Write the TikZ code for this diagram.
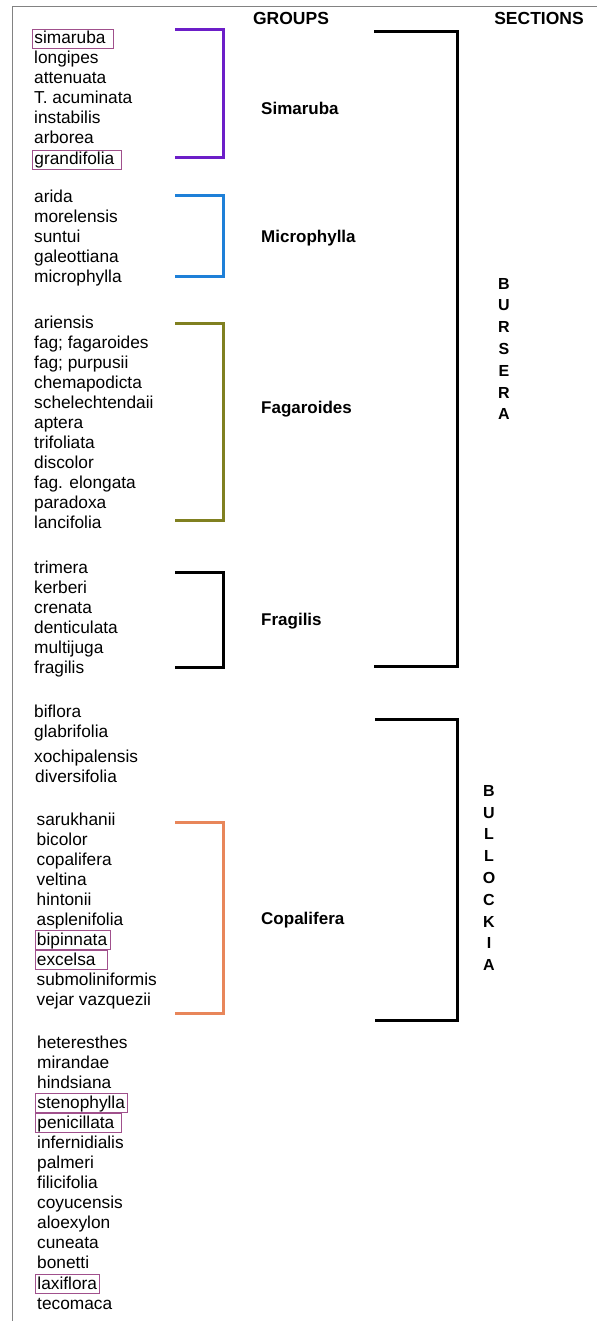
\documentclass[tikz,border=0pt]{standalone}
\usepackage{fontspec}
\setmainfont{Liberation Sans}
\definecolor{simc}{RGB}{108,30,200}
\definecolor{micc}{RGB}{30,128,216}
\definecolor{fagc}{RGB}{128,128,32}
\definecolor{copc}{RGB}{232,134,90}
\definecolor{boxc}{RGB}{160,80,140}
\definecolor{framec}{RGB}{130,130,130}
\tikzset{
  sp/.style={anchor=west, inner xsep=2pt, inner ysep=1.75pt, text height=13pt, text depth=3pt, font=\fontsize{17.3}{20}\selectfont},
  spbox/.style={sp, draw=boxc, line width=0.9pt},
  grplabel/.style={anchor=west, inner xsep=2pt, text height=13pt, text depth=3pt, font=\bfseries\fontsize{17}{20}\selectfont},
  head/.style={font=\bfseries\fontsize{17.5}{20}\selectfont},
  sect/.style={align=center, font=\bfseries\fontsize{16}{21.8}\selectfont},
  brk/.style={line width=3pt}
}
\begin{document}
\begin{tikzpicture}[x=1pt, y=-1pt]
  \useasboundingbox (0,0) rectangle (597,1321);
  % frame
  \draw[framec, line width=1pt] (12,1321) -- (12,7) -- (597,7);
  % headings
  \node[head] (hgroups) at (291,18) {GROUPS};
  \node[head] (hsections) at (539,18) {SECTIONS};

  % Simaruba
  \node[spbox] (s1) at (32,39) {simaruba\kern6pt};
  \node[sp] (s2) at (32,59) {longipes};
  \node[sp] (s3) at (32,79) {attenuata};
  \node[sp] (s4) at (32,99) {T. acuminata};
  \node[sp] (s5) at (32,119) {instabilis};
  \node[sp] (s6) at (32,139) {arborea};
  \node[spbox] (s7) at (32,160) {grandifolia\kern5pt};
  % Microphylla
  \node[sp] (m1) at (32,198) {arida};
  \node[sp] (m2) at (32,218) {morelensis};
  \node[sp] (m3) at (32,238) {suntui};
  \node[sp] (m4) at (32,258) {galeottiana};
  \node[sp] (m5) at (32,278) {microphylla};
  % Fagaroides
  \node[sp] (f1) at (32,323) {ariensis};
  \node[sp] (f2) at (32,343) {fag; fagaroides};
  \node[sp] (f3) at (32,363) {fag; purpusii};
  \node[sp] (f4) at (32,383) {chemapodicta};
  \node[sp] (f5) at (32,403) {schelechtendaii};
  \node[sp] (f6) at (32,423) {aptera};
  \node[sp] (f7) at (32,443) {trifoliata};
  \node[sp] (f8) at (32,463) {discolor};
  \node[sp] (f9) at (32,483) {fag. elongata};
  \node[sp] (f10) at (32,503) {paradoxa};
  \node[sp] (f11) at (32,523) {lancifolia};
  % Fragilis
  \node[sp] (g1) at (32,568) {trimera};
  \node[sp] (g2) at (32,588) {kerberi};
  \node[sp] (g3) at (32,608) {crenata};
  \node[sp] (g4) at (32,628) {denticulata};
  \node[sp] (g5) at (32,648) {multijuga};
  \node[sp] (g6) at (32,668) {fragilis};
  % ungrouped
  \node[sp] (u1) at (32,712) {biflora};
  \node[sp] (u2) at (32,732) {glabrifolia};
  \node[sp] (u3) at (32,757) {xochipalensis};
  \node[sp] (u4) at (33,777) {diversifolia};
  % Copalifera
  \node[sp] (c1) at (34.5,820) {sarukhanii};
  \node[sp] (c2) at (34.5,840) {bicolor};
  \node[sp] (c3) at (34.5,860) {copalifera};
  \node[sp] (c4) at (34.5,880) {veltina};
  \node[sp] (c5) at (34.5,900) {hintonii};
  \node[sp] (c6) at (34.5,920) {asplenifolia};
  \node[spbox] (c7) at (34.5,940) {bipinnata\kern1pt};
  \node[spbox] (c8) at (34.5,960) {excelsa\kern10pt};
  \node[sp] (c9) at (34.5,980) {submoliniformis};
  \node[sp] (c10) at (34.5,1000) {vejar vazquezii};
  % rest
  \node[sp] (r1) at (35,1043) {heteresthes};
  \node[sp] (r2) at (35,1063) {mirandae};
  \node[sp] (r3) at (35,1083) {hindsiana};
  \node[spbox] (r4) at (35,1103) {stenophylla};
  \node[spbox] (r5) at (35,1123) {penicillata\kern5pt};
  \node[sp] (r6) at (35,1143) {infernidialis};
  \node[sp] (r7) at (35,1163) {palmeri};
  \node[sp] (r8) at (35,1183) {filicifolia};
  \node[sp] (r9) at (35,1203) {coyucensis};
  \node[sp] (r10) at (35,1223) {aloexylon};
  \node[sp] (r11) at (35,1243) {cuneata};
  \node[sp] (r12) at (35,1263) {bonetti};
  \node[spbox] (r13) at (35,1284) {laxiflora};
  \node[sp] (r14) at (35,1304) {tecomaca};

  % group labels
  \node[grplabel] (gsim) at (259,110) {Simaruba};
  \node[grplabel] (gmic) at (259,238) {Microphylla};
  \node[grplabel] (gfag) at (259,408) {Fagaroides};
  \node[grplabel] (gfra) at (259,620) {Fragilis};
  \node[grplabel] (gcop) at (259,919) {Copalifera};

  % group brackets
  \coordinate (simT) at (175,30);  \coordinate (simB) at (175,158);
  \coordinate (micT) at (175,196); \coordinate (micB) at (175,277);
  \coordinate (fagT) at (175,323); \coordinate (fagB) at (175,520);
  \coordinate (fraT) at (175,572); \coordinate (fraB) at (175,667);
  \coordinate (copT) at (175,822); \coordinate (copB) at (175,1013);
  \draw[brk, simc] (simT) -- ++(48,0) |- (simB);
  \draw[brk, micc] (micT) -- ++(48,0) |- (micB);
  \draw[brk, fagc] (fagT) -- ++(48,0) |- (fagB);
  \draw[brk, black] (fraT) -- ++(48,0) |- (fraB);
  \draw[brk, copc] (copT) -- ++(48,0) |- (copB);

  % section brackets
  \coordinate (burT) at (374,32);  \coordinate (burB) at (374,666);
  \coordinate (bulT) at (375,719); \coordinate (bulB) at (375,1020);
  \draw[brk] (burT) -- ++(83,0) |- (burB);
  \draw[brk] (bulT) -- ++(82,0) |- (bulB);
  \node[sect] (sbur) at (504,349) {B\\U\\R\\S\\E\\R\\A};
  \node[sect] (sbul) at (489,878) {B\\U\\L\\L\\O\\C\\K\\I\\A};
\end{tikzpicture}
\end{document}
